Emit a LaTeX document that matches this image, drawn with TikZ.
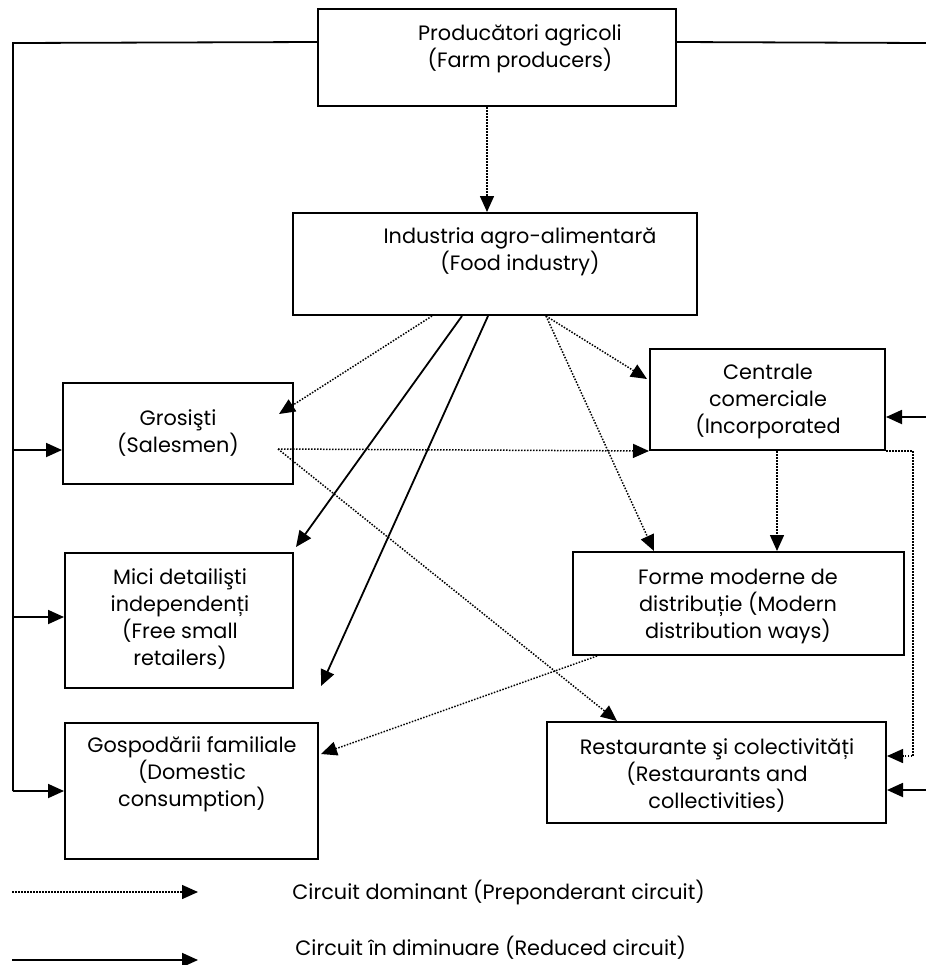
\documentclass[tikz,border=0pt]{standalone}
\usepackage{fontspec}
\setmainfont{Poppins}
\usetikzlibrary{arrows.meta,fit,calc}
\begin{document}
\begin{tikzpicture}[x=0.5pt,y=-0.5pt,
  box/.style={draw, line width=1pt, inner sep=0pt},
  lbl/.style={align=center, font=\fontsize{10.4}{13.5}\selectfont, inner sep=0pt},
  leg/.style={anchor=west, font=\fontsize{10.4}{13.5}\selectfont, inner sep=0pt},
  plainc/.style={line width=0.9pt},
  solidc/.style={line width=0.9pt, -{Triangle[length=8pt,width=7pt]}},
  dotline/.style={line width=0.75pt, dash pattern=on 0.75pt off 0.75pt},
  dotc/.style={dotline, -{Triangle[length=8pt,width=7pt]}}
]
\useasboundingbox (0,0) rectangle (926,965);

% boxes
\node[box, fit={(318,9) (676,106)}] (prod) {};
\node[box, fit={(293,213) (697,315)}] (food) {};
\node[box, fit={(63,383) (293,484)}] (gros) {};
\node[box, fit={(650,349) (885,450)}] (cent) {};
\node[box, fit={(65,553) (293,688)}] (mici) {};
\node[box, fit={(573,552) (904,655)}] (forme) {};
\node[box, fit={(65,723) (318,859)}] (gosp) {};
\node[box, fit={(547,722) (886,823)}] (rest) {};

% texts
\node[lbl] (tprod) at (520,49) {Producători agricoli\\(Farm producers)};
\node[lbl] (tfood) at (520,252) {Industria agro-alimentară\\(Food industry)};
\node[lbl] (tgros) at (178,433) {Grosişti\\(Salesmen)};
\node[lbl] (tcent) at (768,401) {Centrale\\comerciale\\(Incorporated};
\node[lbl] (tmici) at (180,619) {Mici detailişti\\independenți\\(Free small\\retailers)};
\node[lbl] (tforme) at (738,606) {Forme moderne de\\distribuție (Modern\\distribution ways)};
\node[lbl] (tgosp) at (192,774) {Gospodării familiale\\(Domestic\\consumption)};
\node[lbl] (trest) at (717,776) {Restaurante şi colectivități\\(Restaurants and\\collectivities)};

% frame coordinates
\coordinate (Ltop) at (13,43);
\coordinate (Lbot) at (13,791);
\coordinate (Rtop) at (926,43);
\coordinate (R1) at (926,417);
\coordinate (R2) at (926,790);
\coordinate (gA) at ($(gros.north west)+(0,68)$);
\coordinate (mA) at ($(mici.north west)+(0,65)$);

% left frame
\draw[plainc] ($(prod.north west)+(0,34)$) -- (Ltop) -- (Lbot);
\draw[solidc] (Lbot) -- (Lbot -| gosp.west);
\draw[solidc] (Ltop |- gA) -- (gA);
\draw[solidc] (Ltop |- mA) -- (mA);
% right frame
\draw[plainc] ($(prod.north east)+(0,34)$) -- (Rtop);
\draw[solidc] (R1) -- (R1 -| cent.east);
\draw[solidc] (R2) -- (R2 -| rest.east);

% producers -> food industry
\draw[dotc] ($(prod.south west)+(170,0)$) -- ($(food.north west)+(195,0)$);

% food industry outputs
\draw[dotc] ($(food.south west)+(140,0)$) -- ($(gros.north east)+(-15,32)$);
\draw[solidc] ($(food.south west)+(170,0)$) -- ($(mici.north east)+(2,-5)$);
\draw[solidc] ($(food.south west)+(196,0)$) -- ($(gosp.north east)+(2,-36)$);
\draw[dotc] ($(food.south west)+(254,0)$) -- ($(cent.north west)+(-2,31)$);
\draw[dotc] ($(food.south west)+(254,0)$) -- ($(forme.north west)+(82,0)$);

% salesmen outputs
\draw[dotc] ($(gros.north east)+(-16,67)$) -- (cent.south west);
\draw[dotc] ($(gros.north east)+(-16,67)$) -- ($(rest.north west)+(71,0)$);

% incorporated outputs
\draw[dotc] ($(cent.south west)+(128,0)$) -- ($(forme.north west)+(205,0)$);
\draw[dotc] (cent.south east) -- ++(27,0) |- ($(rest.north east)+(0,35)$);

% modern distribution -> domestic
\draw[dotc] ($(forme.south west)+(25,0)$) -- ($(gosp.north east)+(2,32)$);

% legend
\coordinate (lg1a) at (12,892);
\coordinate (lg1b) at (198,892);
\coordinate (lg2a) at (12,960);
\coordinate (lg2b) at (198,960);
\draw[dotc] (lg1a) -- (lg1b);
\draw[solidc] (lg2a) -- (lg2b);
\node[leg] (leg1) at (292,892) {Circuit dominant (Preponderant circuit)};
\node[leg] (leg2) at (295,948) {Circuit în diminuare (Reduced circuit)};
\end{tikzpicture}
\end{document}
